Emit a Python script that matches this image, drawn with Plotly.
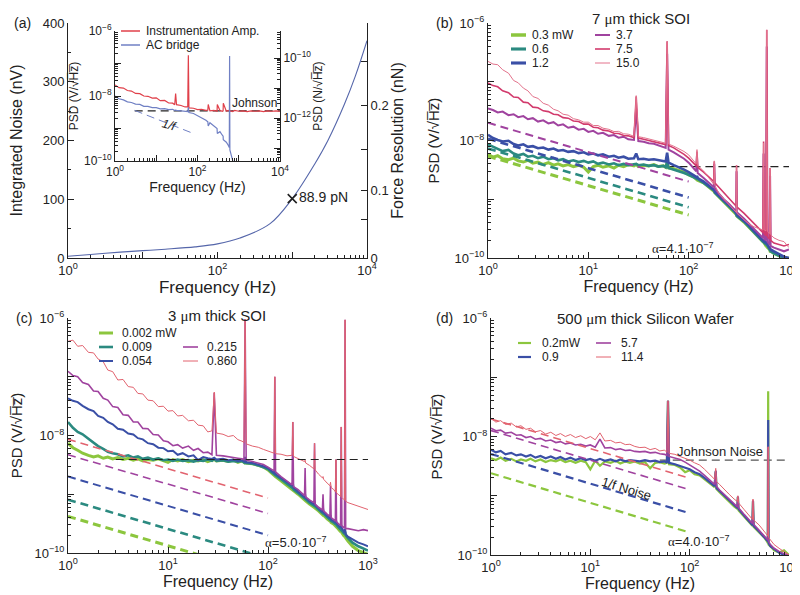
import plotly.graph_objects as go

# ======================= DATA =======================
# ---- (a) integrated noise vs frequency ----
FREQ_A = [1, 2, 5, 10, 20, 50, 100, 200, 500, 1000, 2000, 3000, 5000, 7000, 10000]
NOISE_A_nV = [3, 6, 10, 12.5, 15, 19, 24, 34, 58, 101, 160, 200, 262, 310, 370]
MARK_IDX = 9
MARK_LABEL = "88.9 pN"
FORCE_TICK_POS_nV = [0, 64.7, 115.7, 184, 260.4, 335]
FORCE_TICK_TEXT = ["0", "", "0.1", "", "0.2", ""]

# ---- (a) inset: PSD of readout electronics (nV/rtHz) ----
FREQ_I = [1.0, 1.25, 1.6, 2.0, 2.5, 3.15, 4.0, 5.0, 6.3, 8.0,
          10.0, 12.5, 16.0, 20.0, 25.0, 28.0, 29.5, 31.0, 40.0, 50.0,
          58.0, 60.0, 62.0, 80.0, 100.0, 125.0, 160.0, 178.0, 182.0, 200.0,
          250.0, 298.0, 302.0, 350.0, 400.0, 418.0, 422.0, 500.0, 560.0, 590.0,
          600.0, 610.0, 650.0, 700.0, 800.0, 1000.0, 1250.0, 1600.0, 2000.0, 2500.0,
          3150.0, 4000.0, 5000.0, 6300.0, 8000.0, 10000.0]
INSTR_AMP = [22, 18, 17.5, 14.8, 14.2, 12, 11.8, 10, 9.8, 8.6,
             8.8, 7.2, 7.3, 6.1, 6.0, 5.4, 12, 5.4, 5.1, 4.6,
             4.6, 180, 4.3, 4.2, 3.8, 3.9, 3.6, 3.7, 5.5, 3.5,
             3.6, 3.4, 5.5, 3.6, 3.4, 3.5, 6.0, 3.4, 3.6, 3.4,
             3.7, 3.4, 3.5, 3.3, 3.6, 3.4, 3.5, 3.3, 3.5, 3.4,
             3.5, 3.3, 3.5, 3.4, 3.5, 3.4]
AC_BRIDGE = [10, 8.2, 7.6, 6.6, 6.3, 5.6, 5.5, 4.8, 4.8, 4.4,
             4.4, 4.0, 4.1, 3.8, 3.9, 3.6, 3.7, 3.6, 3.5, 3.3,
             3.3, 4.5, 3.1, 2.9, 2.5, 2.2, 1.8, 1.6, 1.2, 1.5,
             1.2, 1.0, 0.7, 0.8, 0.62, 0.58, 0.45, 0.38, 0.3, 0.26,
             170, 0.22, 0.16, 0.1, 0.06, None, None, None, None, None,
             None, None, None, None, None, None]
JOHNSON_I = 3.5
JOHNSON_I_F = [3, 10000]
ONE_F_I_F = [3, 80]
ONE_F_I = [3.6, 0.70]

# ---- (b) 7 um thick SOI ----
FB = [1.0, 1.12, 1.25, 1.4, 1.6, 1.8, 2.0, 2.25, 2.5, 2.8,
      3.15, 3.55, 4.0, 4.5, 5.0, 5.6, 6.3, 7.1, 8.0, 9.0,
      10.0, 11.2, 12.5, 14.0, 16.0, 18.0, 20.0, 22.5, 25.0, 28.5,
      30.0, 31.5, 35.5, 40.0, 45.0, 50.0, 56.0, 59.0, 61.0, 63.0,
      71.0, 80.0, 90.0, 100.0, 112.0, 119.0, 121.0, 123.0, 141.0, 160.0,
      178.0, 180.0, 182.0, 200.0, 224.0, 251.0, 282.0, 298.0, 300.0, 302.0,
      355.0, 400.0, 447.0, 501.0, 550.0, 558.0, 566.0, 590.0, 600.0, 610.0,
      640.0, 648.0, 656.0, 708.0, 794.0, 891.0, 1000.0]
B_LABELS = ["0.3 mW", "0.6", "1.2", "3.7", "7.5", "15.0"]
B_P03 = [5.8, 5.2, 5.5, 4.9, 4.7, 5.0, 4.5, 4.3, 4.6, 4.1,
         4.3, 3.9, 4.2, 3.8, 4.0, 3.7, 3.9, 3.6, 3.8, 3.5,
         2.9, 3.6, 3.8, 3.5, 3.7, 3.4, 3.8, 3.6, 3.9, 3.7,
         3.9, 3.6, 3.8, 3.7, 3.9, 3.6, 3.7, 3.5, 4.2, 3.4,
         3.3, 3.1, 2.9, 2.6, 2.4, 2.2, 2.3, 2.1, 1.9, 1.6,
         1.4, 1.35, 1.3, 1.1, 0.92, 0.76, 0.62, 0.55, 0.53, 0.52,
         0.41, 0.33, 0.27, 0.22, 0.19, 0.18, 0.18, 0.16, 0.16, 0.15,
         0.14, 0.13, 0.13, 0.12, 0.11, 0.1, 0.1]
B_P06 = [8.6, 7.8, 7.2, 6.6, 6.9, 6.0, 5.6, 5.9, 5.3, 5.5,
         5.0, 5.3, 4.8, 5.0, 4.6, 4.8, 4.4, 4.6, 4.3, 4.5,
         4.2, 4.4, 4.0, 4.2, 3.9, 4.1, 3.8, 4.0, 3.8, 3.9,
         4.0, 3.8, 3.9, 3.7, 3.8, 3.6, 3.7, 3.5, 4.3, 3.4,
         3.2, 3.0, 2.8, 2.6, 2.4, 2.25, 2.35, 2.2, 1.9, 1.6,
         1.4, 1.4, 1.3, 1.12, 0.93, 0.76, 0.63, 0.56, 0.54, 0.52,
         0.42, 0.34, 0.27, 0.23, 0.19, 0.19, 0.18, 0.17, 0.17, 0.16,
         0.14, 0.14, 0.13, 0.12, 0.11, 0.1, 0.095]
B_P12 = [12.5, 11.0, 10.2, 9.6, 9.9, 8.7, 8.2, 8.6, 7.8, 8.0,
         7.4, 7.6, 7.0, 7.3, 6.7, 6.9, 6.4, 6.6, 6.1, 6.3,
         5.8, 6.0, 5.6, 5.8, 5.3, 5.5, 5.1, 5.3, 4.9, 5.0,
         6.0, 4.8, 4.9, 4.7, 4.8, 4.6, 4.5, 4.4, 6.2, 4.2,
         3.8, 3.5, 3.2, 2.9, 2.6, 2.4, 2.5, 2.3, 2.0, 1.7,
         1.45, 1.5, 1.35, 1.15, 0.97, 0.8, 0.66, 0.58, 0.58, 0.55,
         0.44, 0.36, 0.29, 0.24, 0.2, 0.21, 0.19, 0.18, 0.19, 0.17,
         0.15, 0.15, 0.14, 0.13, 0.115, 0.105, 0.1]
B_P37 = [35, 33, 30, 31, 27, 28, 25, 26, 23, 24,
         21, 22, 19.5, 20.5, 18, 18.8, 16.5, 17.2, 15.3, 15.8,
         14, 14.6, 13, 13.5, 12, 12.4, 11.2, 11.6, 10.5, 10.2,
         35, 9.8, 9.5, 9.0, 8.8, 8.3, 7.8, 7.5, 300, 7.0,
         6.3, 5.6, 4.9, 4.2, 3.4, 3.0, 5.5, 2.8, 2.3, 1.9,
         1.6, 4.0, 1.55, 1.25, 1.0, 0.84, 0.7, 0.62, 3.0, 0.6,
         0.47, 0.38, 0.31, 0.26, 0.22, 6.0, 0.21, 0.2, 400, 0.19,
         0.17, 2.5, 0.16, 0.15, 0.14, 0.13, 0.14]
B_P75 = [95, 86, 82, 70, 65, 55, 54, 45, 44, 37,
         36, 32, 31, 28, 27.5, 24.5, 24, 21.5, 21, 19,
         19, 16.8, 16.5, 15, 14.5, 13.3, 13.2, 12.2, 12, 11.2,
         56, 11.0, 10.5, 10.0, 9.6, 9.2, 8.8, 8.5, 490, 8.2,
         7.5, 6.6, 5.8, 5.0, 4.2, 3.7, 6.5, 3.5, 2.9, 2.4,
         2.0, 4.4, 1.9, 1.6, 1.3, 1.05, 0.85, 0.76, 3.8, 0.74,
         0.58, 0.47, 0.38, 0.32, 0.27, 9.6, 0.26, 0.24, 770, 0.23,
         0.21, 3.4, 0.2, 0.18, 0.17, 0.16, 0.17]
B_P150 = [222, 200, 195, 160, 140, 105, 96, 78, 70, 56,
          52, 43, 40, 34, 32, 28, 27, 23.5, 22.5, 20.5,
          20.5, 18, 18, 16.2, 15.5, 14.2, 14.3, 13, 12.8, 11.8,
          58, 11.6, 11.2, 10.6, 10.2, 9.7, 9.3, 9.0, 480, 8.7,
          8.0, 7.2, 6.5, 5.7, 4.6, 4.0, 7.0, 3.8, 3.0, 2.3,
          1.8, 4.5, 1.75, 1.25, 1.0, 0.82, 0.66, 0.6, 3.8, 0.58,
          0.45, 0.38, 0.34, 0.32, 0.3, 9.0, 0.3, 0.29, 760, 0.28,
          0.26, 3.4, 0.25, 0.22, 0.2, 0.19, 0.15]
B_FIT_F = [1, 100]
B_FIT = {"0.3 mW": [5.4, 0.54], "0.6": [7.3, 0.73], "1.2": [10.7, 1.07], "3.7": [20.0, 2.0]}
B_JOHNSON = 3.6
B_JOHNSON_F = [60, 1000]
B_ALPHA = "4.1"

# ---- (c) 3 um thick SOI ----
FC = [1.0, 1.12, 1.25, 1.4, 1.6, 1.8, 2.0, 2.25, 2.5, 2.8,
      3.15, 3.55, 4.0, 4.5, 5.0, 5.6, 6.3, 7.1, 8.0, 9.0,
      10.0, 11.2, 12.5, 14.0, 16.0, 18.0, 20.0, 22.5, 25.0, 27.5,
      29.0, 30.5, 35.5, 40.0, 45.0, 50.0, 55.0, 57.5, 59.0, 60.5,
      70.0, 80.0, 90.0, 100.0, 108.0, 115.0, 117.0, 119.0, 135.0, 155.0,
      174.0, 177.0, 180.0, 200.0, 225.0, 232.0, 235.0, 238.0, 260.0, 288.0,
      292.0, 296.0, 320.0, 350.0, 355.0, 360.0, 390.0, 416.0, 422.0, 428.0,
      455.0, 472.0, 478.0, 484.0, 510.0, 532.0, 540.0, 548.0, 570.0, 582.0,
      590.0, 598.0, 630.0, 700.0, 800.0, 900.0, 1000.0]
C_LABELS = ["0.002 mW", "0.009", "0.054", "0.215", "0.860"]
C_P002 = [7.4, 6.2, 5.6, 5.0, 4.6, 4.3, 4.5, 4.1, 4.3, 4.0,
          4.2, 3.9, 4.1, 3.8, 4.0, 3.7, 3.9, 3.8, 4.0, 3.7,
          3.5, 3.9, 3.7, 3.9, 3.6, 3.8, 3.7, 3.9, 3.6, 3.8,
          3.9, 3.7, 3.8, 3.6, 3.8, 3.5, 3.7, 3.5, 3.9, 3.4,
          3.3, 3.1, 2.9, 2.6, 2.3, 2.1, 2.3, 2.0, 1.7, 1.4,
          1.2, 1.3, 1.15, 1.0, 0.85, 0.8, 0.85, 0.77, 0.68, 0.6,
          0.66, 0.58, 0.52, 0.45, 0.48, 0.44, 0.38, 0.35, 0.37, 0.33,
          0.31, 0.29, 0.31, 0.28, 0.25, 0.23, 0.25, 0.22, 0.2, 0.19,
          0.21, 0.18, 0.16, 0.13, 0.11, 0.1, 0.095]
C_P009 = [17, 13.5, 11.5, 10.5, 8.8, 7.5, 6.6, 5.9, 5.3, 5.0,
          4.8, 4.4, 4.6, 4.2, 4.4, 4.0, 4.2, 3.9, 4.1, 3.8,
          3.9, 3.7, 3.9, 3.7, 3.8, 3.6, 3.8, 3.7, 3.9, 3.7,
          4.0, 3.7, 3.8, 3.6, 3.7, 3.6, 3.7, 3.5, 4.0, 3.4,
          3.3, 3.1, 2.9, 2.7, 2.4, 2.2, 2.4, 2.1, 1.8, 1.5,
          1.3, 1.4, 1.2, 1.05, 0.9, 0.85, 0.9, 0.82, 0.72, 0.64,
          0.7, 0.62, 0.55, 0.48, 0.52, 0.47, 0.41, 0.37, 0.4, 0.35,
          0.33, 0.31, 0.34, 0.3, 0.27, 0.25, 0.27, 0.24, 0.22, 0.21,
          0.23, 0.2, 0.18, 0.15, 0.13, 0.12, 0.11]
C_P054 = [43, 39, 37, 32, 28, 26, 21.5, 20, 17, 15.5,
          13, 12.5, 10.8, 10.4, 9.0, 8.6, 7.4, 7.1, 6.2, 6.1,
          5.4, 5.5, 4.7, 5.0, 4.4, 4.6, 3.8, 4.3, 4.1, 4.0,
          4.2, 3.9, 4.0, 3.8, 3.9, 3.7, 3.8, 3.6, 4.3, 3.5,
          3.4, 3.2, 3.0, 2.8, 2.5, 2.3, 2.6, 2.2, 1.9, 1.6,
          1.4, 1.6, 1.3, 1.1, 0.95, 0.9, 1.0, 0.87, 0.76, 0.68,
          0.78, 0.66, 0.58, 0.5, 0.58, 0.49, 0.43, 0.39, 0.44, 0.37,
          0.35, 0.33, 0.38, 0.32, 0.29, 0.27, 0.3, 0.26, 0.24, 0.22,
          0.26, 0.21, 0.19, 0.17, 0.15, 0.14, 0.13]
C_P215 = [124, 105, 100, 80, 74, 57, 56, 43, 40, 31,
          30, 22.5, 22, 17, 17, 13.2, 13, 10.4, 10.2, 8.1,
          7.8, 6.7, 7.0, 6.1, 6.6, 5.6, 6.0, 5.1, 5.2, 4.7,
          53, 4.6, 4.5, 4.4, 4.3, 4.1, 4.0, 3.9, 950, 3.8,
          3.6, 3.4, 3.2, 2.9, 2.7, 2.5, 100, 2.4, 2.0, 1.7,
          1.45, 17, 1.35, 1.2, 1.0, 0.95, 2.8, 0.9, 0.8, 0.72,
          7.4, 0.68, 0.6, 0.54, 1.0, 0.52, 0.46, 0.42, 1.4, 0.4,
          0.37, 0.35, 3.9, 0.34, 0.31, 0.3, 14, 0.29, 0.27, 0.27,
          930, 0.26, 0.26, 0.25, 0.24, 0.25, 0.24]
C_P860 = [400, 420, 330, 340, 260, 255, 200, 180, 130, 122,
          88, 90, 68, 66, 52, 51, 40, 39, 31, 31.5,
          26, 26.5, 21.5, 22, 17.8, 18.2, 15, 14.6, 11.5, 12,
          55, 11, 10.5, 9.6, 10, 8.5, 8.0, 7.6, 950, 7.2,
          6.6, 6.3, 5.8, 5.4, 5.2, 5.0, 100, 4.9, 4.8, 4.5,
          4.6, 17, 4.4, 4.1, 3.7, 3.6, 3.8, 3.4, 3.1, 2.7,
          7.4, 2.6, 2.2, 1.9, 2.0, 1.8, 1.55, 1.4, 1.6, 1.3,
          1.2, 1.1, 3.9, 1.05, 0.98, 0.92, 14, 0.88, 0.82, 0.8,
          930, 0.76, 0.72, 0.68, 0.62, 0.58, 0.55]
C_FIT_F = [1, 100]
C_FIT = {"0.002 mW": [0.42, 0.042], "0.009": [0.81, 0.081], "0.054": [2.0, 0.2],
         "0.215": [4.7, 0.47], "0.860": [8.6, 0.86]}
C_JOHNSON = 3.9
C_JOHNSON_F = [3, 1000]
C_ALPHA = "5.0"

# ---- (d) 500 um thick Silicon wafer ----
FD = [1.0, 1.12, 1.25, 1.4, 1.6, 1.8, 2.0, 2.25, 2.5, 2.8,
      3.15, 3.55, 4.0, 4.5, 5.0, 5.6, 6.3, 7.1, 8.0, 9.0,
      10.0, 11.2, 12.5, 14.0, 16.0, 18.0, 20.0, 22.5, 25.0, 28.0,
      31.5, 35.5, 40.0, 45.0, 50.0, 56.0, 59.0, 60.5, 62.0, 71.0,
      80.0, 90.0, 100.0, 112.0, 126.0, 141.0, 160.0, 178.0, 183.0, 186.0,
      200.0, 224.0, 251.0, 280.0, 302.0, 306.0, 310.0, 355.0, 400.0, 428.0,
      434.0, 440.0, 501.0, 560.0, 600.0, 612.0, 617.0, 622.0, 650.0, 708.0,
      794.0, 891.0, 1000.0]
D_LABELS = ["0.2mW", "0.9", "5.7", "11.4"]
D_P02 = [4.3, 4.0, 4.4, 3.9, 4.2, 3.8, 4.1, 3.9, 4.2, 3.8,
         4.1, 3.7, 4.0, 3.8, 4.1, 3.7, 3.9, 3.6, 3.9, 3.7,
         2.8, 3.9, 3.2, 3.8, 3.6, 3.9, 3.5, 3.8, 3.6, 3.8,
         3.5, 3.7, 2.9, 3.6, 3.7, 3.5, 3.6, 40, 3.4, 3.3,
         3.0, 2.5, 2.7, 2.3, 2.2, 1.9, 1.6, 1.4, 2.5, 1.3,
         1.15, 0.95, 0.78, 0.66, 0.6, 0.95, 0.57, 0.44, 0.35, 0.31,
         0.8, 0.3, 0.24, 0.2, 0.17, 0.16, 58, 0.15, 0.14, 0.12,
         0.11, 0.12, 0.1]
D_P09 = [6.0, 5.4, 5.7, 5.0, 5.3, 4.8, 5.0, 4.6, 4.9, 4.4,
         4.7, 4.3, 4.6, 4.2, 4.5, 4.1, 4.4, 4.0, 4.3, 4.0,
         4.2, 3.9, 4.2, 3.9, 4.1, 3.8, 4.1, 3.8, 4.0, 3.9,
         3.8, 4.0, 3.8, 3.9, 3.7, 3.8, 3.6, 40, 3.6, 3.4,
         3.2, 3.0, 2.8, 2.5, 2.3, 2.0, 1.7, 1.45, 2.6, 1.35,
         1.2, 1.0, 0.82, 0.68, 0.62, 0.96, 0.6, 0.46, 0.37, 0.32,
         0.82, 0.31, 0.25, 0.2, 0.18, 0.17, 19, 0.16, 0.14, 0.125,
         0.11, 0.1, 0.095]
D_P57 = [13.8, 12.5, 12.8, 11.4, 11.8, 10.5, 10.7, 9.6, 10.0, 9.0,
         9.3, 8.4, 8.7, 7.9, 8.2, 7.5, 7.8, 7.2, 7.4, 6.9,
         7.2, 6.6, 9.0, 6.4, 6.5, 6.0, 6.2, 5.8, 5.9, 5.6,
         5.5, 5.6, 5.3, 5.4, 5.1, 5.0, 4.8, 40, 4.6, 4.3,
         4.1, 3.7, 3.3, 2.9, 2.6, 2.2, 1.85, 1.55, 2.7, 1.45,
         1.25, 1.05, 0.86, 0.72, 0.65, 0.97, 0.63, 0.48, 0.39, 0.34,
         0.84, 0.33, 0.26, 0.21, 0.19, 0.18, 6.7, 0.17, 0.15, 0.13,
         0.115, 0.105, 0.1]
D_P114 = [20.4, 17.5, 18.5, 16, 16.8, 14.5, 15.2, 13.2, 13.8, 12,
          12.6, 11, 11.8, 10.4, 11.2, 10, 10.8, 9.6, 10.3, 9.2,
          10.0, 8.8, 11.5, 8.4, 8.6, 7.8, 8.0, 7.3, 7.4, 6.8,
          6.5, 6.6, 6.0, 6.3, 5.7, 5.9, 5.4, 40, 5.2, 5.0,
          4.6, 4.3, 4.0, 3.6, 3.3, 2.8, 2.3, 1.9, 2.9, 1.75,
          1.55, 1.3, 1.05, 0.88, 0.8, 1.0, 0.76, 0.58, 0.46, 0.4,
          0.88, 0.39, 0.32, 0.25, 0.22, 0.21, 6.7, 0.2, 0.18, 0.15,
          0.13, 0.115, 0.1]
D_FIT_F = [1, 100]
D_FIT = {"0.2mW": [2.4, 0.24], "0.9": [5.06, 0.506], "5.7": [12.6, 1.26], "11.4": [19.8, 1.98]}
D_JOHNSON = 4.0
D_JOHNSON_F = [50, 1000]
D_ALPHA = "4.0"

# ======================= STYLE =======================
W, H = 800, 595
FONT = "Liberation Sans, Arial, Helvetica, sans-serif"
INK = "#222222"
GREEN, TEAL, BLUE = "#8cc63e", "#2b8a80", "#3a4fa6"
PURPLE, PINK, LPINK, SALMON = "#a0439f", "#d23a6c", "#e3738c", "#e2636f"
RED_I, BLUE_I, CURVE_A = "#e0404a", "#7080c4", "#5566aa"
DASH = "8px,5px"
OVR = "H\u0305z\u0305"


def px(x):
    return x / W


def py(y):
    return 1 - y / H


def pw(e):
    return "10<sup>%s</sup>" % str(e).replace("-", "\u2212")


def minor_vals(e0, e1):
    return [m * 10.0 ** e for e in range(e0, e1) for m in range(2, 10)]


def base_axis(**kw):
    d = dict(showline=True, linecolor=INK, linewidth=1, showgrid=False, zeroline=False,
             ticks="inside", tickcolor=INK, ticklen=6, tickwidth=1,
             tickfont=dict(size=13, color=INK, family=FONT))
    d.update(kw)
    return d


def log_x(domain, anchor, e0, e1, labeled, title, tsize=16, standoff=2, fsize=13):
    exps = list(range(e0, e1 + 1))
    return base_axis(domain=domain, anchor=anchor, type="log", range=[e0, e1],
                     tickmode="array", tickvals=[10.0 ** e for e in exps],
                     ticktext=[pw(e) if e in labeled else "" for e in exps],
                     minor=dict(tickmode="array", tickvals=minor_vals(e0, e1), ticks="inside",
                                ticklen=3, tickcolor=INK),
                     tickfont=dict(size=fsize, color=INK, family=FONT),
                     title=dict(text=title, font=dict(size=tsize, color=INK, family=FONT), standoff=standoff))


def psd_y(domain, anchor, title, tsize=15, standoff=4, fsize=13):
    # values in nV/sqrt(Hz); labels shown in V/sqrt(Hz)
    exps = [-1, 0, 1, 2, 3]
    return base_axis(domain=domain, anchor=anchor, type="log", range=[-1, 3],
                     tickmode="array", tickvals=[10.0 ** e for e in exps],
                     ticktext=[pw(e - 9) if (e - 9) in (-10, -8, -6) else "" for e in exps],
                     minor=dict(tickmode="array", tickvals=minor_vals(-1, 3), ticks="inside",
                                ticklen=3, tickcolor=INK),
                     tickfont=dict(size=fsize, color=INK, family=FONT),
                     title=dict(text=title, font=dict(size=tsize, color=INK, family=FONT), standoff=standoff))


fig = go.Figure()


def line(x, y, xa, ya, color, width, dash=None, shape="linear"):
    fig.add_trace(go.Scatter(x=x, y=y, xaxis=xa, yaxis=ya, mode="lines",
                             line=dict(color=color, width=width, dash=dash, shape=shape),
                             showlegend=False, hoverinfo="skip", connectgaps=False))


def axis_holder(xa, ya):
    # empty trace so that a secondary (label-only) axis gets drawn
    fig.add_trace(go.Scatter(x=[], y=[], xaxis=xa, yaxis=ya, mode="lines",
                             showlegend=False, hoverinfo="skip"))


# ---------- (a) main ----------
line(FREQ_A, NOISE_A_nV, "x", "y", CURVE_A, 1.1, shape="spline")
fig.add_trace(go.Scatter(x=[FREQ_A[MARK_IDX]], y=[NOISE_A_nV[MARK_IDX]], xaxis="x", yaxis="y",
                         mode="markers", marker=dict(symbol="x-thin", size=9, line=dict(width=1.6, color=INK)),
                         showlegend=False, hoverinfo="skip"))
axis_holder("x", "y2")

# ---------- (a) inset ----------
line(JOHNSON_I_F, [JOHNSON_I, JOHNSON_I], "x2", "y3", INK, 1.2, dash=DASH)
line(FREQ_I, INSTR_AMP, "x2", "y3", RED_I, 1.2)
line(FREQ_I, AC_BRIDGE, "x2", "y3", BLUE_I, 1.2)
line(ONE_F_I_F, ONE_F_I, "x2", "y3", BLUE_I, 1.0, dash=DASH)
axis_holder("x2", "y4")

# ---------- (b) ----------
B_SERIES = [B_P03, B_P06, B_P12, B_P37, B_P75, B_P150]
B_COLORS = [GREEN, TEAL, BLUE, PURPLE, PINK, LPINK]
B_WIDTHS = [3.0, 2.6, 2.6, 2.0, 1.6, 1.0]
line(B_JOHNSON_F, [B_JOHNSON, B_JOHNSON], "x3", "y5", INK, 1.2, dash=DASH)
for s, c, w in zip(B_SERIES, B_COLORS, B_WIDTHS):
    line(FB, s, "x3", "y5", c, w)
for lab, c, w in zip(B_LABELS, B_COLORS, B_WIDTHS):
    if lab in B_FIT:
        line(B_FIT_F, B_FIT[lab], "x3", "y5", c, max(w, 2.0), dash=DASH)

# ---------- (c) ----------
C_SERIES = [C_P002, C_P009, C_P054, C_P215, C_P860]
C_COLORS = [GREEN, TEAL, BLUE, PURPLE, SALMON]
C_WIDTHS = [3.0, 2.6, 2.0, 1.6, 1.0]
for s, c, w in zip(C_SERIES, C_COLORS, C_WIDTHS):
    line(FC, s, "x4", "y6", c, w)
for lab, c, w in zip(C_LABELS, C_COLORS, C_WIDTHS):
    line(C_FIT_F, C_FIT[lab], "x4", "y6", c, max(w, 1.6), dash=DASH)
line(C_JOHNSON_F, [C_JOHNSON, C_JOHNSON], "x4", "y6", INK, 1.2, dash=DASH)

# ---------- (d) ----------
D_SERIES = [D_P02, D_P09, D_P57, D_P114]
D_COLORS = [GREEN, BLUE, PURPLE, SALMON]
D_WIDTHS = [2.2, 2.2, 1.6, 1.0]
line(D_JOHNSON_F, [D_JOHNSON, D_JOHNSON], "x5", "y7", "#555555", 1.2, dash=DASH)
for s, c, w in zip(D_SERIES, D_COLORS, D_WIDTHS):
    line(FD, s, "x5", "y7", c, w)
for lab, c, w in zip(D_LABELS, D_COLORS, D_WIDTHS):
    line(D_FIT_F, D_FIT[lab], "x5", "y7", c, max(w, 1.6), dash=DASH)

# ======================= LAYOUT =======================
shapes, annos = [], []


def note(x, y, text, size=14, xanchor="center", angle=0, italic=False):
    if italic:
        text = "<i>%s</i>" % text
    annos.append(dict(xref="paper", yref="paper", x=px(x), y=py(y), text=text, showarrow=False,
                      xanchor=xanchor, yanchor="middle", textangle=angle, borderpad=0,
                      font=dict(size=size, color=INK, family=FONT)))


def legend_item(x0, x1, xt, y, color, width, label, size=12):
    shapes.append(dict(type="line", xref="paper", yref="paper", x0=px(x0), x1=px(x1),
                       y0=py(y), y1=py(y), line=dict(color=color, width=width)))
    note(xt, y, label, size=size, xanchor="left")


ALPHA = "<span style='font-family:Liberation Serif'>\u03b1</span>"
MU = "<span style='font-family:Liberation Serif'>\u03bc</span>"

# (a)
note(5, 15, "(a)", 14, xanchor="left")
note(290, 189, MARK_LABEL, 14, xanchor="left")
note(246, 95, "Johnson", 12)
note(161, 117, "1/f", 12, angle=15, italic=True)
legend_item(113, 132, 137, 23, RED_I, 1.5, "Instrumentation Amp.", 12)
legend_item(113, 132, 137, 37, BLUE_I, 1.5, "AC bridge", 12)

# (b)
note(427, 15, "(b)", 14, xanchor="left")
note(633, 10, "7 %sm thick SOI" % MU, 15)
note(675, 240, "%s=%s\u00b710<sup>\u22127</sup>" % (ALPHA, B_ALPHA), 13)
for i, (lab, c, w) in enumerate(zip(B_LABELS, B_COLORS, B_WIDTHS)):
    col, row = divmod(i, 3)
    yrow = [27, 41, 55][row]
    if col == 0:
        legend_item(503, 518, 523, yrow, c, w + 0.5, lab)
    else:
        legend_item(587, 602, 607, yrow, c, w, lab)

# (c)
note(7, 310, "(c)", 14, xanchor="left")
note(209, 307, "3 %sm thick SOI" % MU, 15)
note(288, 534, "%s=%s\u00b710<sup>\u22127</sup>" % (ALPHA, C_ALPHA), 13)
C_LEG = [(91, 105, 113, 325), (91, 105, 113, 339), (91, 105, 113, 353),
         (175, 190, 198, 339), (175, 190, 198, 353)]
for (x0, x1, xt, yy), lab, c, w in zip(C_LEG, C_LABELS, C_COLORS, C_WIDTHS):
    legend_item(x0, x1, xt, yy, c, w, lab)

# (d)
note(427, 310, "(d)", 14, xanchor="left")
note(637, 310, "500 %sm thick Silicon Wafer" % MU, 15)
note(712, 443, "Johnson Noise", 13)
note(618, 480, "1/f Noise", 13, angle=17)
note(691, 533, "%s=%s\u00b710<sup>\u22127</sup>" % (ALPHA, D_ALPHA), 13)
D_LEG = [(510, 523, 533, 335), (510, 523, 533, 349), (588, 603, 612, 335), (588, 603, 612, 349)]
for (x0, x1, xt, yy), lab, c, w in zip(D_LEG, D_LABELS, D_COLORS, D_WIDTHS):
    legend_item(x0, x1, xt, yy, c, w, lab)

PSD_V = "PSD (V/\u221a%s)" % OVR
PSD_N = "PSD (N/\u221a%s)" % OVR

layout = dict(
    template="none", width=W, height=H, margin=dict(l=0, r=0, t=0, b=0),
    paper_bgcolor="white", plot_bgcolor="white", showlegend=False,
    font=dict(family=FONT, color=INK, size=13),
    # (a) main
    xaxis=log_x([px(60), px(359)], "y", 0, 4, (0, 2, 4), "Frequency (Hz)", tsize=17, standoff=3),
    yaxis=base_axis(domain=[py(250), py(15)], anchor="x", range=[0, 400], tickmode="array",
                    tickvals=[0, 100, 200, 300, 400],
                    minor=dict(tickmode="array", tickvals=[50, 150, 250, 350], ticks="inside", ticklen=3, tickcolor=INK),
                    title=dict(text="Integrated Noise (nV)", font=dict(size=16, color=INK, family=FONT), standoff=19)),
    yaxis2=base_axis(overlaying="y", anchor="x", side="right", range=[0, 400], tickmode="array",
                     tickvals=FORCE_TICK_POS_nV, ticktext=FORCE_TICK_TEXT,
                     title=dict(text="Force Resolution (nN)", font=dict(size=16, color=INK, family=FONT), standoff=1)),
    # inset
    xaxis2=log_x([px(107), px(272)], "y3", 0, 4, (0, 2, 4), "Frequency (Hz)", tsize=14, standoff=1, fsize=12),
    yaxis3=psd_y([py(153), py(23)], "x2", PSD_V, tsize=12, standoff=2, fsize=12),
    yaxis4=base_axis(overlaying="y3", anchor="x2", side="right", type="log", range=[-13.43, -9.1],
                     tickmode="array", tickvals=[1e-13, 1e-12, 1e-11, 1e-10],
                     ticktext=["", pw(-12), "", pw(-10)],
                     minor=dict(tickmode="array", tickvals=minor_vals(-14, -9), ticks="inside", ticklen=3, tickcolor=INK),
                     tickfont=dict(size=12, color=INK, family=FONT),
                     title=dict(text=PSD_N, font=dict(size=12, color=INK, family=FONT), standoff=0)),
    # (b)
    xaxis3=log_x([px(480), px(781)], "y5", 0, 3, (0, 1, 2, 3), "Frequency (Hz)", tsize=16, standoff=3),
    yaxis5=psd_y([py(250), py(15)], "x3", PSD_V, standoff=11),
    # (c)
    xaxis4=log_x([px(60), px(360)], "y6", 0, 3, (0, 1, 2, 3), "Frequency (Hz)", tsize=16, standoff=3),
    yaxis6=psd_y([py(545), py(310)], "x4", PSD_V, standoff=11),
    # (d)
    xaxis5=log_x([px(483), px(781)], "y7", 0, 3, (0, 1, 2, 3), "Frequency (Hz)", tsize=16, standoff=3),
    yaxis7=psd_y([py(547), py(310)], "x5", PSD_V, standoff=11),
    shapes=shapes, annotations=annos,
)
fig.update_layout(**layout)
fig.write_html("out.html")
